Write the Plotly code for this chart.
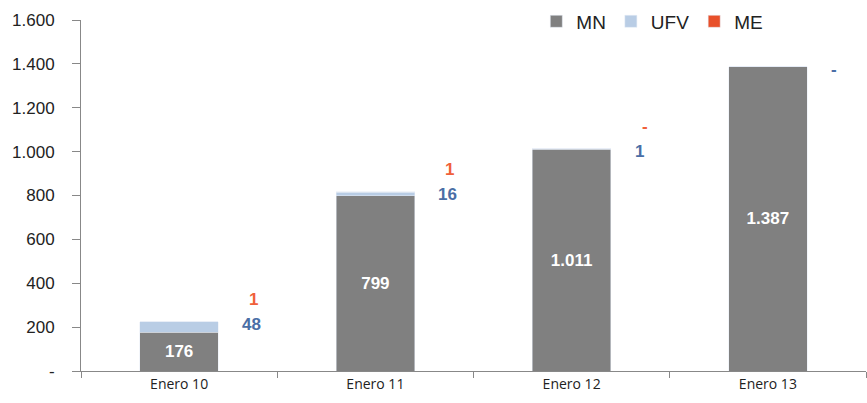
import plotly.graph_objects as go

categories = ["Enero 10", "Enero 11", "Enero 12", "Enero 13"]
mn_values = [176, 799, 1011, 1387]
ufv_values = [48, 16, 1, 0]
me_values = [1, 1, 0, 0]
mn_labels = ["176", "799", "1.011", "1.387"]
ufv_labels = ["48", "16", "1", "-"]
me_labels = ["1", "1", "-", None]
y_tick_vals = [0, 200, 400, 600, 800, 1000, 1200, 1400, 1600]
y_tick_text = ["-", "200", "400", "600", "800", "1.000", "1.200", "1.400", "1.600"]

GRAY = "#808080"
UFV_C = "#b9cde5"
ME_C = "#e8502a"

fig = go.Figure()
fig.add_trace(go.Bar(
    name="MN", x=categories, y=mn_values, marker_color=GRAY,
    text=mn_labels, textposition="inside", insidetextanchor="middle",
    constraintext="none",
    textfont=dict(color="white", size=17, family="Liberation Sans"),
    texttemplate="<b>%{text}</b>",
))
fig.add_trace(go.Bar(name="UFV", x=categories, y=ufv_values, marker_color=UFV_C))
fig.add_trace(go.Bar(name="ME", x=categories, y=me_values, marker_color=ME_C))

totals = [a + b + c for a, b, c in zip(mn_values, ufv_values, me_values)]
for cat, tot, ul, ml in zip(categories, totals, ufv_labels, me_labels):
    fig.add_annotation(x=cat, y=tot, text=f"<b>{ul}</b>", showarrow=False,
                       xanchor="left", yanchor="middle", xshift=61, yshift=-3,
                       font=dict(color="#4a6ea6", size=17, family="Liberation Sans"))
    if ml is not None:
        fig.add_annotation(x=cat, y=tot, text=f"<b>{ml}</b>", showarrow=False,
                           xanchor="left", yanchor="middle", xshift=68, yshift=22,
                           font=dict(color="#f0603a", size=17, family="Liberation Sans"))

fig.update_layout(
    barmode="stack",
    bargap=0.6,
    width=867, height=403,
    margin=dict(l=81, r=1, t=20, b=32),
    plot_bgcolor="white", paper_bgcolor="white",
    separators=",.",
    font=dict(family="Open Sans", color="#222222"),
    legend=dict(orientation="h", x=0.58, y=1.05, xanchor="left", yanchor="top",
                traceorder="normal",
                font=dict(size=19, family="Liberation Sans", color="#222222"),
                bgcolor="rgba(0,0,0,0)", itemwidth=30, tracegroupgap=0),
    showlegend=True,
)
fig.update_xaxes(
    showline=True, linecolor="#888888", linewidth=1,
    ticks="outside", tickson="boundaries", ticklen=6, tickcolor="#888888",
    tickfont=dict(size=14, family="Open Sans", color="#222222"),
    showgrid=False,
)
fig.update_yaxes(
    range=[0, 1600], tickvals=y_tick_vals, ticktext=y_tick_text,
    showline=True, linecolor="#888888", linewidth=1,
    ticks="outside", ticklen=8, tickcolor="#888888", ticklabelstandoff=14,
    tickfont=dict(size=17, family="Liberation Sans", color="#222222"),
    showgrid=False, zeroline=False,
)

fig.write_html("out.html", config={"displayModeBar": False},
               post_script="document.body.style.margin='0';")
